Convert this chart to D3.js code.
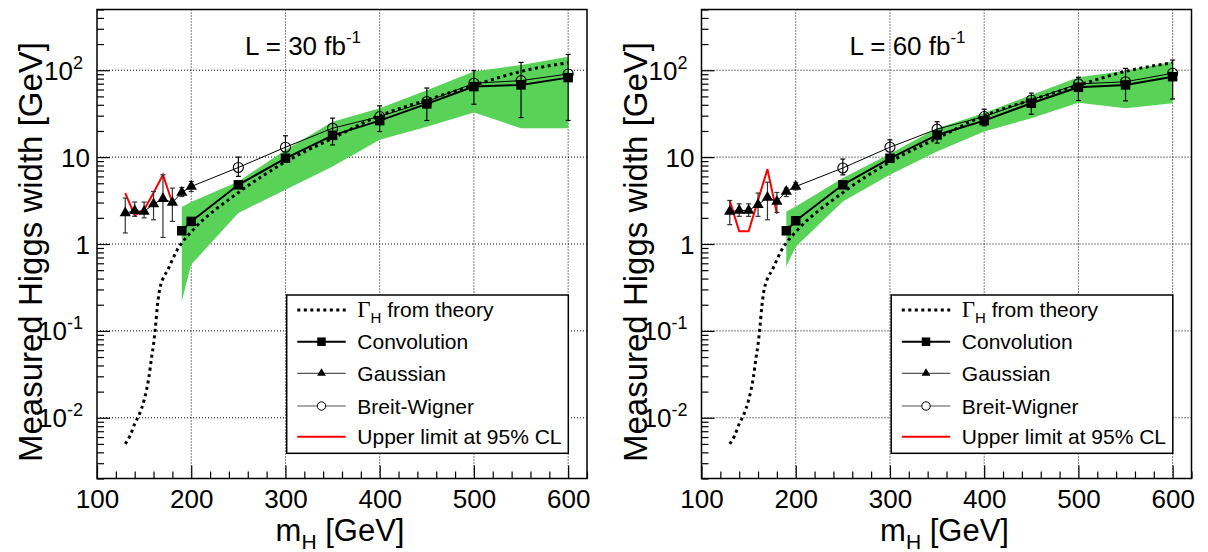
<!DOCTYPE html>
<html><head><meta charset="utf-8">
<script src="https://cdn.jsdelivr.net/npm/d3@7"></script>
<style>
body{margin:0;background:#fff}
text{font-family:"Liberation Sans",Arial,Helvetica,sans-serif;fill:#000}
</style>
</head><body>
<svg id="c" width="1208" height="552" xmlns="http://www.w3.org/2000/svg"></svg>
<script>
// ---------------- data ----------------
const theoryMass  = [130,135,140,145,150,155,158,160,162,164,166,168,170,175,180,185,190,200,250,300,350,400,450,500,550,600];
const theoryWidth = [0.0050,0.0062,0.0085,0.011,0.016,0.029,0.05,0.07,0.11,0.19,0.28,0.35,0.40,0.50,0.66,0.85,1.03,1.38,3.9,8.8,16.5,30,45.5,67,97,122];

const bandMass = [190,200,250,300,350,400,450,500,550,600];
const bandLo30 = [0.22,0.58,2.27,4.2,7.8,15.8,22.4,32.6,21.5,21.5];
const bandHi30 = [2.66,3.04,5.25,12.1,25.6,36.6,59,97,115,143];
const bandLo60 = [0.55,0.93,3.09,6.25,11.6,19.7,28.1,42.3,36.6,41.7];
const bandHi60 = [2.37,2.7,5.74,10.9,21.5,32.1,51.9,83,98.8,125];

const convMass = [190,200,250,300,350,400,450,500,550,600];
const conv30 = [1.42,1.82,4.8,9.7,17.8,26.3,41,64.8,67.8,82.2];
const conv60 = [1.42,1.85,4.8,9.7,18,26.3,41.7,63.6,67.8,84.3];

const bwMass = [250,300,350,400,450,500,550,600];
const bw30   = [7.6,13.0,21.5,29.3,43.5,70.9,75.9,90.6];
const bw30Lo = [6.0,9.3,13.8,19.7,26.4,40.6,28.5,26.4];
const bw30Hi = [10.0,17.6,28.1,38.9,62.4,98.8,123,152];
const bw60   = [7.5,13.0,21,29.3,45.5,69.7,73.6,92.4];
const bw60Lo = [6.25,10.6,14.5,22.9,31.2,44.8,44.4,46.7];
const bw60Hi = [9.5,15.8,25.6,35.6,54.5,83,105,131];

const gausMass = [130,140,150,160,170,180,190,200];
const gaus30   = [2.27,2.41,2.37,2.88,3.31,3.0,3.92,4.59];
const gaus30Lo = [1.34,2.08,2.0,1.9,1.19,1.82,3.52,4.02];
const gaus30Hi = [3.38,3.04,3.04,4.02,6.26,4.4,4.47,5.25];
const gaus60   = [2.37,2.43,2.43,2.83,3.43,3.09,4.02,4.59];
const gaus60Lo = [1.67,2.08,2.08,2.08,1.9,2.31,3.52,4.2];
const gaus60Hi = [3.17,2.9,2.9,3.86,5.15,3.92,4.4,5.1];

const ulMass = [130,140,150,160,170,180];
const ul30 = [3.86,2.13,2.48,3.9,6.26,2.96];
const ul60 = [3.17,1.4,1.4,3.2,7.28,2.23];

const xTicks = [100,200,300,400,500,600];
const xMinorTicks = d3.range(100,621,20);
const yTicks = [0.01,0.1,1,10,100];
const yTickBase = ["10","10","1","10","10"];
const yTickExp  = ["-2","-1","","","2"];
const lumis = ["30","60"];
const legendLabels = ["from theory","Convolution","Gaussian","Breit-Wigner","Upper limit at 95% CL"];

// --------------- drawing ---------------
const svg = d3.select("#c");
svg.append("rect").attr("width",1208).attr("height",552).attr("fill","#fff");
const GREEN = "#58d358";

const panels = [
  {x0:97,  x1:587, lumi:lumis[0], bandLo:bandLo30, bandHi:bandHi30, conv:conv30, bw:bw30, bwLo:bw30Lo, bwHi:bw30Hi, gaus:gaus30, gausLo:gaus30Lo, gausHi:gaus30Hi, ul:ul30},
  {x0:701.5, x1:1191.5, lumi:lumis[1], bandLo:bandLo60, bandHi:bandHi60, conv:conv60, bw:bw60, bwLo:bw60Lo, bwHi:bw60Hi, gaus:gaus60, gausLo:gaus60Lo, gausHi:gaus60Hi, ul:ul60}
];
const yTop = 9.5, yBot = 478.5;

panels.forEach(p => {
  const g = svg.append("g");
  const x = d3.scaleLinear().domain([100,620]).range([p.x0,p.x1]);
  const y = d3.scaleLog().domain([0.002,500]).range([yBot,yTop]);

  // grid
  g.append("g").selectAll("line").data(xTicks.slice(1)).join("line")
    .attr("x1",d=>x(d)).attr("x2",d=>x(d)).attr("y1",yTop).attr("y2",yBot)
    .attr("stroke","#000").attr("stroke-width",1).attr("stroke-dasharray","1,2");
  g.append("g").selectAll("line").data(yTicks).join("line")
    .attr("x1",p.x0).attr("x2",p.x1).attr("y1",d=>y(d)).attr("y2",d=>y(d))
    .attr("stroke","#000").attr("stroke-width",1).attr("stroke-dasharray","1,2");

  // band
  const bandPts = bandMass.map((m,i)=>[x(m),y(p.bandHi[i])])
    .concat(bandMass.map((m,i)=>[x(m),y(p.bandLo[i])]).reverse());
  g.append("path").attr("d", d3.line()(bandPts)+"Z").attr("fill",GREEN).attr("stroke","none");

  // theory dotted
  g.append("path")
    .attr("d", d3.line().curve(d3.curveMonotoneX).x((d,i)=>x(theoryMass[i])).y(d=>y(d))(theoryWidth))
    .attr("fill","none").attr("stroke","#000").attr("stroke-width",3).attr("stroke-dasharray","3,3.5");

  // upper limit
  g.append("path")
    .attr("d", d3.line().x((d,i)=>x(ulMass[i])).y(d=>y(d))(p.ul))
    .attr("fill","none").attr("stroke","#ff0000").attr("stroke-width",2);

  // thin line gaussian + BW
  const thin = gausMass.map((m,i)=>[x(m),y(p.gaus[i])]).concat(bwMass.map((m,i)=>[x(m),y(p.bw[i])]));
  g.append("path").attr("d", d3.line()(thin)).attr("fill","none").attr("stroke","#000").attr("stroke-width",1);

  // error bars
  function errBars(ms, lo, hi, color) {
    const eg = g.append("g").attr("stroke",color).attr("stroke-width",1.2);
    ms.forEach((m,i)=>{
      const cx = x(m);
      eg.append("line").attr("x1",cx).attr("x2",cx).attr("y1",y(lo[i])).attr("y2",y(hi[i]));
      eg.append("line").attr("x1",cx-2.5).attr("x2",cx+2.5).attr("y1",y(lo[i])).attr("y2",y(lo[i]));
      eg.append("line").attr("x1",cx-2.5).attr("x2",cx+2.5).attr("y1",y(hi[i])).attr("y2",y(hi[i]));
    });
  }
  errBars(gausMass, p.gausLo, p.gausHi, "#333");
  errBars(bwMass, p.bwLo, p.bwHi, "#000");

  // convolution line
  g.append("path")
    .attr("d", d3.line().x((d,i)=>x(convMass[i])).y(d=>y(d))(p.conv))
    .attr("fill","none").attr("stroke","#000").attr("stroke-width",2);

  // markers
  g.append("g").selectAll("circle").data(p.bw).join("circle")
    .attr("cx",(d,i)=>x(bwMass[i])).attr("cy",d=>y(d)).attr("r",5)
    .attr("fill","none").attr("stroke","#000").attr("stroke-width",1.1);
  const tri = d3.symbol().type(d3.symbolTriangle).size(55);
  g.append("g").selectAll("path").data(p.gaus).join("path")
    .attr("d",tri).attr("transform",(d,i)=>`translate(${x(gausMass[i])},${y(d)})`).attr("fill","#000");
  g.append("g").selectAll("rect").data(p.conv).join("rect")
    .attr("x",(d,i)=>x(convMass[i])-4.75).attr("y",d=>y(d)-4.75).attr("width",9.5).attr("height",9.5).attr("fill","#000");

  // axes (ticks inward)
  const xa = g.append("g").attr("transform",`translate(0,${yBot})`);
  xa.call(d3.axisBottom(x).tickValues(xMinorTicks.filter(v=>v%100!==0)).tickSize(-7).tickSizeOuter(0).tickFormat(""));
  xa.select(".domain").remove();
  const xb = g.append("g").attr("transform",`translate(0,${yBot})`);
  xb.call(d3.axisBottom(x).tickValues(xTicks).tickSize(-13).tickSizeOuter(0).tickPadding(11).tickFormat(d3.format("d")));
  xb.select(".domain").remove();
  xb.selectAll("text").attr("font-size",26).attr("font-family",null);
  xb.selectAll("line").attr("stroke-width",1.2);
  xa.selectAll("line").attr("stroke-width",1.2);

  const yMinor = [];
  [0.001,0.01,0.1,1,10,100].forEach(dec=>{ for(let k=2;k<=9;k++){ const v=dec*k; if(v>=0.002 && v<=500) yMinor.push(v);} });
  const ya = g.append("g").attr("transform",`translate(${p.x0},0)`);
  ya.call(d3.axisLeft(y).tickValues(yMinor).tickSize(-7).tickSizeOuter(0).tickFormat(""));
  ya.select(".domain").remove();
  const yb = g.append("g").attr("transform",`translate(${p.x0},0)`);
  yb.call(d3.axisLeft(y).tickValues(yTicks).tickSize(-13).tickSizeOuter(0).tickFormat(""));
  yb.select(".domain").remove();
  ya.selectAll("line").attr("stroke-width",1.2);
  yb.selectAll("line").attr("stroke-width",1.2);

  // y tick labels
  yTicks.forEach((v,i)=>{
    const hasExp = yTickExp[i] !== "";
    const t = g.append("text").attr("x", p.x0 - (hasExp?14:7)).attr("y", y(v)+9.5)
      .attr("text-anchor","end").attr("font-size",26);
    t.append("tspan").text(yTickBase[i]);
    if (hasExp) t.append("tspan").attr("font-size",18).attr("dy",-11).text(yTickExp[i]);
  });

  // frame
  g.append("rect").attr("x",p.x0).attr("y",yTop).attr("width",p.x1-p.x0).attr("height",yBot-yTop)
    .attr("fill","none").attr("stroke","#000").attr("stroke-width",1.5);

  // axis titles
  const xt = g.append("text").attr("x",(p.x0+p.x1)/2 - 2).attr("y",541).attr("text-anchor","middle").attr("font-size",31);
  xt.append("tspan").text("m");
  xt.append("tspan").attr("font-size",21).attr("dy",8).text("H");
  xt.append("tspan").attr("dy",-8).text(" [GeV]");
  g.append("text").attr("transform",`translate(${p.x0-55},${(yTop+yBot)/2+8}) rotate(-90)`)
    .attr("text-anchor","middle").attr("font-size",33).text("Measured Higgs width [GeV]");

  // luminosity label
  const lt = g.append("text").attr("x",p.x0+148).attr("y",55).attr("font-size",26);
  lt.append("tspan").text(`L = ${p.lumi} fb`);
  lt.append("tspan").attr("font-size",17).attr("dy",-12).text("-1");

  // legend
  const lx = p.x0 + 189.7, ly = 295, lw = 281.6, lh = 158.3;
  const lg = g.append("g");
  lg.append("rect").attr("x",lx).attr("y",ly).attr("width",lw).attr("height",lh)
    .attr("fill","#fff").attr("stroke","#000").attr("stroke-width",1.5);
  const rows = [310, 341.7, 373.3, 406, 436.7];
  const sx1 = lx+10.6, sx2 = lx+59, sxm = (sx1+sx2)/2, tx = lx+70.6;
  lg.append("line").attr("x1",sx1).attr("x2",sx2).attr("y1",rows[0]).attr("y2",rows[0])
    .attr("stroke","#000").attr("stroke-width",3).attr("stroke-dasharray","3,3.5");
  lg.append("line").attr("x1",sx1).attr("x2",sx2).attr("y1",rows[1]).attr("y2",rows[1]).attr("stroke","#000").attr("stroke-width",2);
  lg.append("rect").attr("x",sxm-4.25).attr("y",rows[1]-4.25).attr("width",8.5).attr("height",8.5).attr("fill","#000");
  lg.append("line").attr("x1",sx1).attr("x2",sx2).attr("y1",rows[2]).attr("y2",rows[2]).attr("stroke","#555").attr("stroke-width",1.2);
  lg.append("path").attr("d",d3.symbol().type(d3.symbolTriangle).size(34)).attr("transform",`translate(${sxm},${rows[2]})`).attr("fill","#000");
  lg.append("line").attr("x1",sx1).attr("x2",sx2).attr("y1",rows[3]).attr("y2",rows[3]).attr("stroke","#555").attr("stroke-width",1.2);
  lg.append("circle").attr("cx",sxm).attr("cy",rows[3]).attr("r",4.2).attr("fill","#fff").attr("stroke","#000").attr("stroke-width",1);
  lg.append("line").attr("x1",sx1).attr("x2",sx2).attr("y1",rows[4]).attr("y2",rows[4]).attr("stroke","#ff0000").attr("stroke-width",2);

  const t0 = lg.append("text").attr("x",tx).attr("y",rows[0]+7).attr("font-size",21);
  t0.append("tspan").attr("font-family","'Liberation Serif','Times New Roman',serif").attr("font-size",23).text("Γ");
  t0.append("tspan").attr("font-size",15).attr("dy",6).text("H");
  t0.append("tspan").attr("dy",-6).text(" " + legendLabels[0]);
  legendLabels.slice(1).forEach((s,i)=>{
    lg.append("text").attr("x",tx).attr("y",rows[i+1]+7.5).attr("font-size",21).text(s);
  });
});
</script>
</body></html>
